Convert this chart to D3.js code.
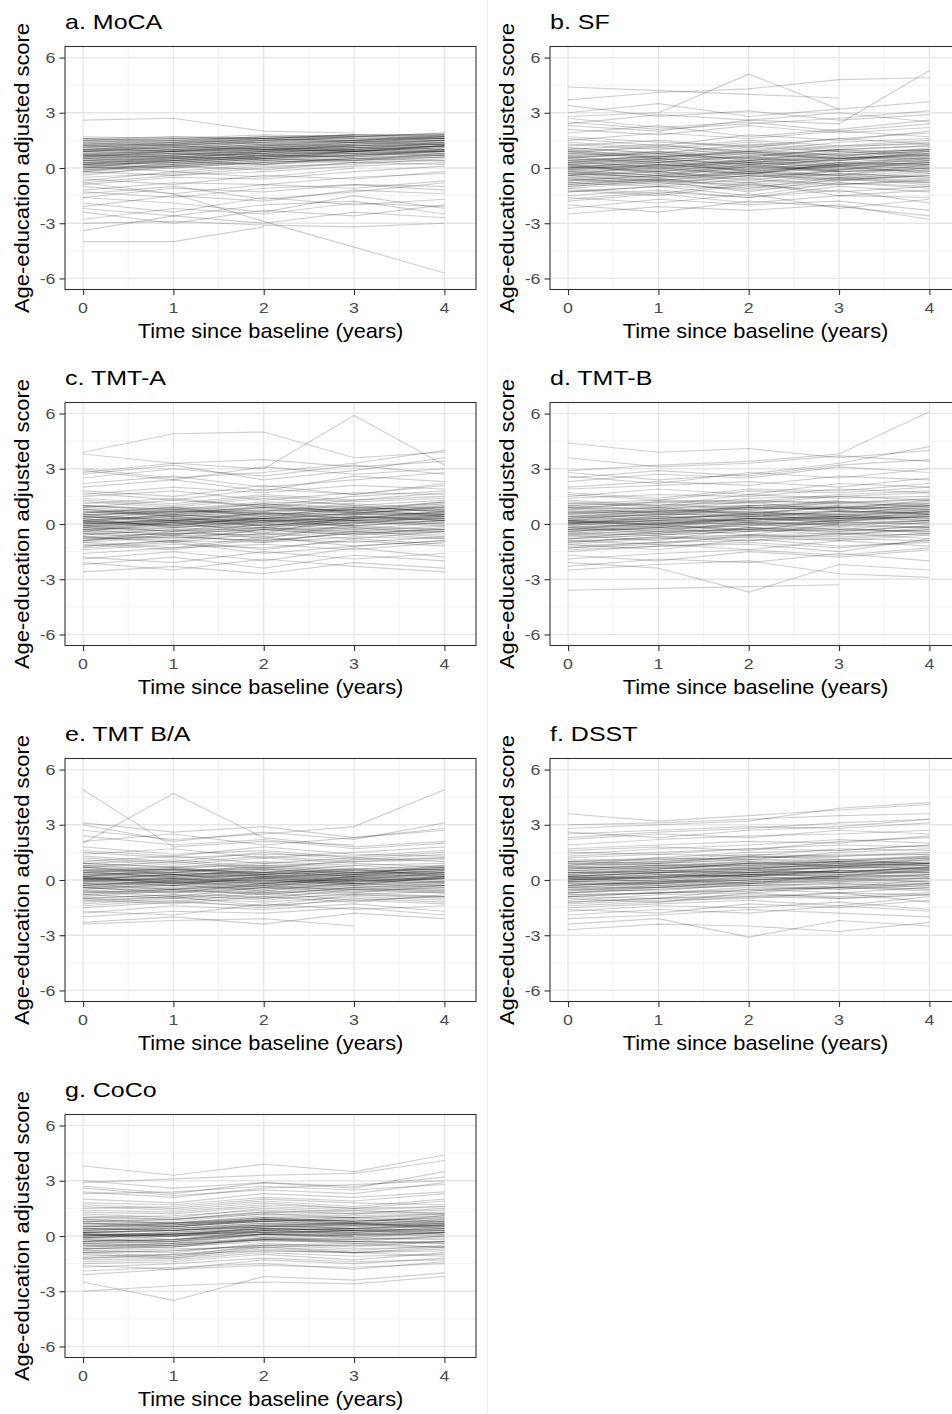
<!DOCTYPE html>
<html>
<head>
<meta charset="utf-8">
<script src="https://cdn.jsdelivr.net/npm/d3@7"></script>
<style>
  html, body { margin: 0; padding: 0; background: #fff; }
  svg { display: block; font-family: "Liberation Sans", Arial, Helvetica, sans-serif; }
</style>
</head>
<body>
<svg id="chart" width="952" height="1414"></svg>
<script>
// Panel titles, in drawing order (two columns, left to right, top to bottom)
const panelTitles = ["a. MoCA", "b. SF", "c. TMT-A", "d. TMT-B", "e. TMT B/A", "f. DSST", "g. CoCo"];

// Visit times (years since baseline) and axis ticks
const visitYears = [0, 1, 2, 3, 4];
const xTicks = [0, 1, 2, 3, 4];
const yTicks = [-6, -3, 0, 3, 6];

// Individual trajectories: adjusted score at each visit (null = no visit)
const moca = [
  [0.4,0.6,0.8,0.9,1.1],[1.2,1.4,1.3,1.5,1.6],[0.9,1.1,1.2,1.3,1.4],[0.1,0.3,0.6,0.8,0.9],
  [-0.3,0.0,0.3,0.5,0.6],[0.6,0.7,1.0,1.1,1.3],[1.5,1.6,1.5,1.7,1.7],[0.2,0.5,0.4,0.7,0.9],
  [-0.8,-0.4,-0.2,0.1,0.3],[0.8,0.9,1.1,1.2,null],[1.6,1.7,1.6,1.8,1.8],[0.5,0.4,0.7,0.9,1.2],
  [-0.1,0.2,0.5,0.4,0.8],[1.0,1.3,1.4,1.4,1.6],[0.3,0.6,0.5,0.9,1.0],[-1.2,-0.8,-0.9,-0.5,-0.3],
  [0.7,1.0,0.9,1.3,1.5],[1.3,1.2,1.5,1.6,1.7],[0.0,0.1,0.4,0.6,null],[-0.5,-0.3,0.1,0.2,0.5],
  [1.1,1.4,1.6,1.5,1.8],[0.6,0.9,1.2,1.1,1.4],[-1.6,-1.1,-1.3,-0.9,-1.0],[0.2,0.0,0.3,0.5,0.4],
  [1.4,1.5,1.7,1.6,null],[-2.1,-1.5,-1.8,-1.2,-1.4],[0.9,0.8,1.0,1.2,1.3],[-0.6,-0.9,-0.4,-0.6,-0.2],
  [0.4,0.7,0.9,1.0,1.2],[-2.8,-2.2,-2.5,-1.9,-2.1],[1.7,1.6,1.8,1.7,1.9],[-0.9,-0.5,-0.6,-0.2,0.1],
  [0.0,0.4,0.2,0.6,0.7],[1.2,1.0,1.3,1.4,1.5],[-1.9,-2.4,-1.6,-2.0,-1.7],[0.7,0.6,0.8,1.0,null],
  [-3.4,-2.6,-3.0,-2.4,-2.7],[-1.0,-1.4,-0.9,-1.1,-0.7],[0.5,0.8,0.6,0.9,1.1],[-2.4,-3.0,-2.3,-2.6,-2.0],
  [1.0,1.1,1.4,1.5,1.7],[-0.2,-0.4,0.0,0.3,0.2],[-4.0,-4.0,-3.2,null,null],[0.3,0.2,0.5,0.7,0.9],
  [-1.4,-1.0,-1.7,-1.3,-0.8],[2.6,2.7,2.0,1.9,null],[-0.8,-1.4,-2.9,-4.3,-5.7],[-3.0,-2.9,-3.1,-3.2,-3.0],
  [-2.2,-2.6,-2.0,-1.8,-2.5],[-1.6,-1.9,-2.4,-1.5,-2.2],[0.6,0.5,0.9,1.2,1.3],[0.1,-0.2,0.2,0.4,0.6],
  [1.3,1.5,1.4,1.7,null],[0.8,1.0,1.1,0.9,1.2],[-0.4,0.1,-0.1,0.3,0.4],[0.2,0.4,0.7,0.6,1.0],
  [1.5,1.3,1.6,1.8,1.7],[-0.7,-0.2,-0.5,0.0,null],[0.9,1.2,1.0,1.4,1.6],[0.4,0.3,0.6,0.8,0.7],
  [1.1,0.9,1.2,1.4,1.3],[-0.2,0.3,0.2,0.5,0.8],[0.7,0.8,1.1,1.0,1.2],[-1.3,-1.6,-1.1,-0.9,-1.2],
  [1.6,1.4,1.7,1.8,1.8],[0.0,0.5,0.7,0.6,0.9],
  [0.5,0.7,0.9,1.0,1.2],[1.0,1.2,1.1,1.4,1.5],[0.2,0.3,0.6,0.7,0.8],[1.4,1.6,1.6,1.7,1.8],
  [0.7,0.9,0.8,1.1,1.3],[0.3,0.5,0.8,0.8,1.0],[1.2,1.1,1.4,1.5,1.6],[-0.1,0.1,0.3,0.5,0.7],
  [0.9,1.0,1.3,1.2,1.5],[0.6,0.8,0.7,1.0,null],[1.6,1.5,1.7,1.7,1.9],[0.1,0.4,0.5,0.7,1.0],
  [0.8,0.7,1.0,1.1,1.2],[1.3,1.4,1.5,1.6,1.6],[0.4,0.5,0.6,0.9,1.1],[1.1,1.3,1.2,1.5,1.7],
  [0.0,0.2,0.5,0.4,0.7],[0.7,0.6,0.9,1.0,1.4],[1.5,1.7,1.6,1.8,null],[0.3,0.4,0.7,0.9,0.9],
  [0.9,1.1,1.0,1.2,1.4],[-0.2,0.1,0.4,0.3,0.6],[1.2,1.3,1.6,1.4,1.7],[0.5,0.6,0.8,1.1,1.0],
  [1.0,0.9,1.1,1.3,1.5],[0.6,0.9,1.0,0.9,1.2],[1.4,1.2,1.5,1.7,1.6],[0.2,0.6,0.5,0.8,0.9]
];

const sf = [
  [0.0,0.2,-0.1,0.1,0.3],[0.8,0.6,1.0,0.7,0.9],[-0.6,-0.3,-0.5,-0.2,0.0],[1.4,1.1,1.5,1.2,1.3],
  [-1.1,-0.8,-1.2,-0.9,-0.6],[0.3,0.5,0.2,0.6,0.4],[-0.3,-0.5,0.1,-0.2,-0.1],[2.1,1.8,2.3,1.9,2.2],
  [0.5,0.9,0.4,0.8,1.0],[-1.5,-1.2,-1.6,-1.0,-1.3],[0.1,-0.2,0.3,0.0,null],[1.0,1.3,0.8,1.2,1.5],
  [-0.8,-1.0,-0.6,-0.9,-0.7],[0.6,0.3,0.7,0.5,0.8],[-0.1,0.1,-0.3,0.2,0.1],[2.7,2.2,2.5,2.0,2.4],
  [-1.8,-1.4,-1.9,-1.5,-1.6],[0.4,0.0,0.5,0.3,0.6],[1.7,1.4,1.2,1.6,1.9],[-0.4,0.2,-0.2,0.1,-0.3],
  [0.9,0.7,1.1,0.9,null],[-1.2,-1.5,-0.9,-1.3,-1.0],[3.4,2.8,3.1,2.6,2.9],[0.2,0.4,0.0,0.5,0.7],
  [-0.7,-0.4,-0.8,-0.3,-0.5],[1.2,1.5,1.1,1.6,1.3],[-2.2,-1.7,-2.0,-1.8,-2.3],[0.7,0.5,0.9,0.6,1.1],
  [-0.2,-0.6,-0.1,-0.4,0.2],[4.4,4.2,4.0,3.8,null],[2.4,2.9,2.6,3.0,2.5],[-1.6,-1.9,-1.4,-2.2,-1.7],
  [0.0,0.3,0.6,0.2,0.5],[1.9,2.3,1.7,2.1,2.6],[-0.9,-0.6,-1.1,-0.5,-0.8],[0.5,0.2,0.4,0.9,0.6],
  [-0.5,-0.2,-0.7,-0.1,null],[3.0,3.5,2.8,3.2,3.6],[1.1,0.8,1.3,1.0,1.2],[-2.0,-2.4,-1.8,-2.1,-2.6],
  [0.3,0.7,0.5,0.4,0.9],[-1.3,-1.0,-1.5,-0.8,-1.1],[2.8,3.0,5.1,3.2,null],[1.5,1.9,1.6,2.0,1.7],
  [-0.1,-0.4,0.2,-0.2,0.0],[0.8,1.2,0.9,1.4,1.6],[-1.0,-0.7,-1.3,-0.6,-0.9],[3.7,4.1,4.3,4.8,4.9],
  [0.1,-0.1,0.4,0.1,0.3],[-0.6,-0.9,-0.4,-0.7,-0.3],[1.3,1.0,1.4,1.1,1.4],[-1.7,-1.3,-1.6,-1.2,-1.9],
  [0.6,0.8,0.3,0.7,0.5],[-0.3,0.0,-0.4,0.3,0.2],[1.0,0.6,0.9,0.5,0.8],[0.2,-0.3,0.1,-0.1,0.4],
  [-0.8,-0.5,-0.3,-0.6,-0.4],[2.5,2.1,2.4,2.7,3.1],[-2.5,-2.1,-2.3,-2.0,-2.8],[0.4,0.6,0.8,0.5,1.0],
  [-0.4,-0.7,-0.2,-0.5,-0.1],[1.6,1.2,1.8,1.5,2.0],[0.0,0.4,-0.2,0.2,null],[0.9,0.5,0.6,1.0,0.7],
  [-1.1,-1.4,-0.8,-1.5,-1.2],[2.3,2.0,2.6,2.4,5.3],
  [0.1,0.3,0.0,0.2,0.4],[-0.4,-0.2,-0.5,-0.1,0.1],[0.6,0.4,0.8,0.5,0.7],[-0.9,-0.6,-0.8,-0.5,-0.7],
  [0.3,0.1,0.4,0.2,0.6],[-0.2,0.0,-0.3,0.1,0.0],[0.9,1.1,0.7,1.0,1.2],[-0.6,-0.8,-0.4,-0.6,-0.2],
  [0.4,0.6,0.3,0.6,0.5],[0.0,-0.2,0.2,-0.1,0.3],[-1.0,-0.7,-0.9,-0.6,-0.8],[0.7,0.9,0.6,1.0,null],
  [-0.3,-0.5,-0.2,-0.4,0.0],[0.2,0.5,0.2,0.4,0.7],[-0.7,-0.4,-0.6,-0.3,-0.5],[1.1,0.8,1.2,0.9,1.0],
  [0.5,0.3,0.6,0.4,0.8],[-0.1,0.2,-0.1,0.3,0.2],[-0.5,-0.7,-0.3,-0.4,-0.6],[0.8,0.6,0.9,0.7,0.9],
  [0.0,0.1,0.3,0.0,0.2],[-0.8,-0.6,-1.0,-0.7,-0.4],[0.3,0.5,0.1,0.5,0.3],[-0.2,-0.4,0.0,-0.2,null],
  [0.6,0.8,0.5,0.8,1.0],[-0.4,-0.1,-0.3,0.0,-0.2],[0.2,0.0,0.3,0.1,0.5],[-1.3,-1.0,-1.1,-0.8,-1.0]
];

const tmtA = [
  [0.0,0.3,0.1,0.4,0.2],[0.9,0.6,1.1,0.8,1.2],[-0.5,-0.2,-0.4,0.1,-0.1],[1.5,1.8,1.3,1.7,1.6],
  [-1.0,-0.7,-0.9,-0.5,-0.8],[0.4,0.1,0.6,0.3,0.7],[-0.2,0.2,-0.1,0.3,0.5],[2.2,2.6,2.0,2.4,2.8],
  [0.6,0.9,0.7,1.0,0.6],[-1.4,-1.1,-1.3,-0.9,-1.2],[0.2,-0.1,0.4,0.2,null],[1.1,1.4,0.9,1.3,1.7],
  [-0.7,-0.9,-0.3,-0.6,-0.4],[0.7,0.4,0.9,0.6,0.9],[-0.1,0.0,0.3,0.0,0.4],[2.9,2.4,3.1,2.7,3.0],
  [-1.6,-1.3,-1.1,-1.4,-1.0],[0.3,0.7,0.5,0.8,0.4],[1.8,1.5,2.1,1.6,2.2],[-0.4,0.1,-0.2,0.2,0.0],
  [1.0,0.8,1.2,1.1,null],[-1.1,-1.4,-0.8,-1.0,-0.7],[3.8,3.3,3.5,3.1,3.4],[0.1,0.5,0.2,0.6,0.8],
  [-0.8,-0.5,-0.6,-0.2,-0.5],[1.3,1.0,1.5,1.2,1.4],[-2.2,-1.8,-2.4,-1.7,-2.0],[0.8,0.5,1.0,0.7,1.1],
  [-0.3,-0.6,0.0,-0.3,0.1],[3.9,4.9,5.0,3.6,3.9],[2.5,3.0,2.6,3.2,2.7],[-1.8,-2.1,-1.5,-1.9,-1.6],
  [0.0,0.2,0.6,0.3,0.6],[2.0,2.4,1.8,2.6,2.3],[-0.9,-0.6,-1.0,-0.4,-0.7],[0.5,0.2,0.3,0.8,0.5],
  [-0.6,-0.3,-0.8,0.0,null],[2.8,3.3,3.0,5.9,3.2],[1.2,0.9,1.4,1.0,1.3],[-2.1,-2.5,-1.9,-2.3,-2.6],
  [0.4,0.8,0.6,0.5,1.0],[-1.2,-0.9,-1.4,-0.8,-1.1],[1.6,2.0,1.7,2.1,1.9],[-0.1,-0.4,0.2,-0.1,0.2],
  [0.9,1.3,1.0,1.5,1.8],[-1.3,-1.0,-1.6,-1.2,-0.9],[2.7,3.2,2.4,2.9,3.6],[0.1,0.0,0.3,0.2,0.3],
  [-0.7,-1.0,-0.5,-0.8,-0.4],[1.4,1.1,1.6,1.3,1.5],[-1.9,-1.5,-2.0,-1.3,-1.8],[0.6,0.9,0.4,0.9,0.7],
  [-0.3,0.1,-0.5,0.4,0.3],[1.0,0.7,1.1,0.6,0.9],[0.3,-0.2,0.2,0.0,0.5],[-0.9,-0.4,-0.2,-0.5,-0.3],
  [3.0,2.5,2.8,3.3,4.0],[-2.6,-2.3,-2.7,-2.1,-2.4],[0.5,0.6,0.9,0.7,1.2],[-0.5,-0.8,-0.3,-0.6,-0.2],
  [1.7,1.3,1.9,1.6,2.1],[0.1,0.4,-0.1,0.3,null],[0.8,0.4,0.7,1.1,0.8],[-1.0,-1.3,-0.7,-1.2,-0.9],
  [0.2,0.5,0.3,0.6,0.5],[-0.2,0.0,0.1,0.4,0.2],
  [0.1,0.2,0.3,0.5,0.4],[-0.3,-0.1,-0.2,0.2,0.1],[0.5,0.7,0.6,0.9,0.7],[-0.7,-0.5,-0.6,-0.3,-0.4],
  [0.2,0.4,0.1,0.5,0.6],[-0.1,0.1,0.2,0.1,0.3],[0.8,0.6,0.9,0.7,1.0],[-0.5,-0.6,-0.2,-0.4,-0.1],
  [0.4,0.3,0.6,0.5,0.6],[0.0,0.2,-0.1,0.3,0.2],[-0.9,-0.6,-0.7,-0.4,-0.6],[0.6,0.8,0.5,0.8,null],
  [-0.2,-0.4,0.0,-0.1,0.2],[0.3,0.6,0.4,0.7,0.5],[-0.6,-0.3,-0.5,-0.1,-0.3],[1.0,0.8,1.1,0.9,1.1],
  [0.4,0.2,0.5,0.3,0.7],[-0.1,0.3,0.0,0.4,0.3],[-0.4,-0.5,-0.3,-0.2,-0.3],[0.7,0.5,0.8,0.6,0.8],
  [0.0,0.1,0.2,0.2,0.4],[-0.8,-0.7,-0.9,-0.5,-0.3],[0.2,0.5,0.3,0.6,0.4],[-0.3,-0.2,0.1,-0.1,null],
  [0.5,0.7,0.7,0.8,0.9],[-0.4,0.0,-0.3,0.1,0.0],[0.1,-0.1,0.3,0.2,0.5],[-1.2,-0.9,-1.0,-0.7,-0.8]
];

const tmtB = [
  [0.1,0.2,0.4,0.3,0.5],[0.8,0.9,1.0,1.2,1.1],[-0.6,-0.3,-0.1,0.0,-0.2],[1.4,1.6,1.5,1.9,1.7],
  [-1.1,-0.8,-0.6,-0.7,-0.5],[0.3,0.5,0.7,0.4,0.8],[-0.2,0.0,0.2,0.5,0.3],[2.0,2.3,2.1,2.6,2.4],
  [0.6,0.4,0.9,0.8,1.0],[-1.5,-1.2,-1.0,-1.3,-0.9],[0.0,-0.2,0.3,0.1,null],[1.1,1.3,1.2,1.6,1.8],
  [-0.8,-0.6,-0.4,-0.2,-0.5],[0.5,0.8,0.6,0.9,0.7],[-0.3,0.1,0.0,0.2,0.4],[2.6,2.2,2.8,2.5,3.0],
  [-1.9,-1.6,-1.4,-1.7,-1.3],[0.2,0.6,0.4,0.7,0.6],[1.7,1.4,1.9,1.8,2.2],[-0.4,-0.1,-0.3,0.1,0.0],
  [0.9,1.1,0.8,1.3,null],[-1.2,-1.0,-0.7,-0.9,-0.6],[3.6,3.1,3.3,3.7,3.4],[0.0,0.3,0.5,0.6,0.9],
  [-0.7,-0.5,-0.2,-0.4,-0.1],[1.2,0.9,1.4,1.5,1.3],[-2.3,-1.9,-2.1,-1.6,-2.0],[0.7,0.5,1.0,0.9,1.2],
  [-0.1,-0.4,0.1,-0.1,0.2],[4.4,3.9,4.1,3.6,4.0],[2.3,2.7,2.5,3.1,2.8],[-1.7,-2.0,-1.5,-1.8,-1.4],
  [0.1,0.0,0.4,0.5,0.6],[1.9,2.1,2.3,2.0,2.5],[-1.0,-0.7,-0.9,-0.5,-0.8],[0.4,0.2,0.6,0.9,0.5],
  [-0.5,-0.2,-0.6,0.0,null],[2.9,3.2,3.4,3.8,6.1],[1.0,1.2,1.3,1.1,1.4],[-2.1,-2.4,-3.7,-2.2,-2.5],
  [0.3,0.7,0.6,0.5,1.0],[-1.3,-1.1,-1.4,-0.9,-1.2],[1.5,1.9,1.6,2.2,2.0],[-0.2,-0.5,0.0,-0.3,0.1],
  [0.8,1.2,1.1,1.5,1.7],[-1.4,-1.2,-1.1,-1.5,-0.8],[2.5,2.9,2.6,3.2,3.5],[0.2,0.1,0.3,0.4,0.2],
  [-0.9,-1.1,-0.6,-0.8,-0.5],[1.3,1.0,1.6,1.4,1.5],[-3.6,-3.5,-3.4,-3.3,null],[0.6,0.9,0.5,1.0,0.8],
  [-0.3,0.0,-0.4,0.3,0.4],[1.0,0.8,1.2,0.7,1.1],[0.2,-0.1,0.3,0.1,0.5],[-0.8,-0.4,-0.3,-0.6,-0.2],
  [2.8,2.4,2.7,3.3,4.2],[-2.5,-2.2,-2.0,-2.7,-2.9],[0.4,0.7,0.9,0.8,1.3],[-0.6,-0.9,-0.2,-0.5,-0.3],
  [1.6,1.3,1.8,1.7,2.0],[0.0,0.4,0.1,0.4,null],[0.9,0.6,0.7,1.2,0.9],[-1.1,-1.4,-0.8,-1.2,-1.0],
  [0.1,0.3,0.5,0.2,0.7],
  [0.0,0.2,0.3,0.4,0.5],[-0.4,-0.2,0.0,0.1,0.0],[0.6,0.6,0.8,0.9,0.8],[-0.8,-0.6,-0.4,-0.3,-0.4],
  [0.2,0.3,0.5,0.4,0.7],[-0.2,0.0,0.1,0.3,0.2],[0.9,0.8,1.0,1.1,1.0],[-0.6,-0.5,-0.3,-0.4,-0.1],
  [0.4,0.5,0.6,0.7,0.6],[0.1,0.1,0.2,0.4,0.3],[-1.0,-0.7,-0.6,-0.5,-0.6],[0.7,0.7,0.9,1.0,null],
  [-0.3,-0.3,0.0,0.0,0.2],[0.3,0.5,0.5,0.6,0.8],[-0.5,-0.4,-0.3,-0.1,-0.2],[1.1,1.0,1.2,1.2,1.3],
  [0.5,0.3,0.6,0.5,0.7],[-0.1,0.2,0.2,0.3,0.4],[-0.5,-0.6,-0.2,-0.3,-0.4],[0.8,0.6,0.9,0.8,1.0],
  [0.0,0.0,0.3,0.2,0.4],[-0.9,-0.8,-0.7,-0.6,-0.3],[0.2,0.4,0.4,0.7,0.5],[-0.3,-0.1,0.1,0.0,null],
  [0.6,0.7,0.8,0.9,1.1],[-0.4,-0.2,-0.1,0.2,0.1],[0.1,0.0,0.3,0.3,0.6],[-1.3,-1.0,-0.9,-0.8,-0.9]
];

const tmtRatio = [
  [0.0,-0.2,0.1,-0.1,0.2],[0.7,0.4,0.8,0.5,0.6],[-0.6,-0.4,-0.7,-0.3,-0.5],[1.2,0.9,1.3,1.0,1.1],
  [-1.0,-0.8,-1.1,-0.7,-0.9],[0.3,0.1,0.4,0.2,0.5],[-0.3,0.0,-0.2,0.1,-0.1],[1.8,1.4,1.6,1.2,1.5],
  [0.5,0.7,0.3,0.6,0.4],[-1.3,-1.0,-1.2,-0.9,-1.1],[0.1,-0.1,0.2,0.0,null],[0.9,1.1,0.7,1.0,1.2],
  [-0.8,-1.0,-0.6,-0.8,-0.6],[0.6,0.3,0.5,0.4,0.7],[-0.1,0.1,-0.3,0.1,0.0],[2.4,1.9,2.2,1.7,2.0],
  [-1.5,-1.2,-1.4,-1.1,-1.3],[0.2,0.5,0.1,0.4,0.3],[1.5,1.2,1.4,1.3,1.6],[-0.4,-0.1,-0.5,0.0,-0.3],
  [0.8,0.6,0.9,0.7,null],[-1.1,-1.3,-0.9,-1.2,-0.8],[3.1,2.6,2.9,2.3,2.7],[0.0,0.3,-0.1,0.3,0.5],
  [-0.7,-0.5,-0.8,-0.4,-0.6],[1.0,1.3,0.9,1.2,1.0],[-2.0,-1.7,-1.8,-1.5,-1.9],[0.4,0.2,0.6,0.3,0.8],
  [-0.2,-0.5,0.0,-0.2,0.1],[4.9,1.8,2.1,1.9,null],[2.0,4.7,2.3,1.8,2.1],[-1.7,-1.9,-1.3,-1.6,-1.4],
  [0.1,0.0,0.3,0.1,0.4],[1.4,1.7,1.2,1.5,1.8],[-0.9,-0.6,-1.0,-0.5,-0.7],[0.5,0.1,0.3,0.6,0.2],
  [-0.5,-0.2,-0.6,-0.1,null],[2.7,2.2,2.5,2.9,4.9],[0.9,0.7,1.0,0.8,0.9],[-2.3,-2.0,-2.4,-1.8,-2.1],
  [0.2,0.6,0.4,0.2,0.6],[-1.2,-0.9,-1.4,-0.8,-1.0],[1.6,1.3,1.8,1.4,1.3],[-0.1,-0.3,0.2,-0.1,0.1],
  [0.7,1.0,0.6,1.1,1.4],[-1.4,-1.1,-1.5,-1.0,-1.2],[2.1,2.5,1.9,2.3,2.8],[0.0,-0.3,0.1,-0.2,-0.1],
  [-0.6,-0.9,-0.4,-0.7,-0.3],[1.1,0.8,1.2,0.9,0.7],[-1.8,-1.4,-1.6,-1.3,-1.7],[0.4,0.6,0.2,0.5,0.3],
  [-0.3,0.0,-0.4,0.2,0.1],[0.8,0.5,0.7,0.4,0.6],[0.2,-0.2,0.0,-0.3,0.2],[-0.8,-0.5,-0.3,-0.6,-0.4],
  [3.0,2.1,2.6,2.2,3.1],[-2.4,-2.2,-2.1,-2.5,null],[0.3,0.4,0.6,0.3,0.7],[-0.4,-0.7,-0.2,-0.4,-0.2],
  [1.3,1.0,1.5,1.1,1.2],[0.0,0.3,-0.2,0.2,null],[0.7,0.3,0.4,0.8,0.5],[-1.0,-1.2,-0.7,-1.1,-0.9],
  [0.1,0.2,0.3,0.0,0.4],
  [0.0,0.1,-0.1,0.0,0.1],[-0.4,-0.3,-0.5,-0.2,-0.3],[0.5,0.3,0.4,0.3,0.5],[-0.8,-0.6,-0.7,-0.5,-0.6],
  [0.2,0.0,0.3,0.1,0.3],[-0.2,-0.1,-0.3,0.0,-0.2],[0.7,0.5,0.6,0.4,0.6],[-0.6,-0.7,-0.4,-0.5,-0.3],
  [0.3,0.4,0.2,0.3,0.2],[0.1,-0.1,0.0,-0.2,0.1],[-1.0,-0.8,-0.9,-0.6,-0.7],[0.4,0.6,0.3,0.5,null],
  [-0.3,-0.5,-0.2,-0.3,-0.1],[0.2,0.3,0.1,0.4,0.4],[-0.5,-0.3,-0.6,-0.2,-0.4],[0.9,0.7,0.8,0.6,0.8],
  [0.4,0.2,0.5,0.2,0.4],[-0.1,0.1,-0.2,0.2,0.0],[-0.4,-0.6,-0.3,-0.5,-0.5],[0.6,0.4,0.7,0.5,0.6],
  [0.0,0.0,0.1,-0.1,0.2],[-0.7,-0.5,-0.8,-0.4,-0.3],[0.1,0.3,0.0,0.3,0.2],[-0.2,-0.3,-0.1,-0.2,null],
  [0.5,0.6,0.4,0.6,0.7],[-0.3,-0.1,-0.4,0.0,-0.1],[0.1,-0.2,0.2,0.0,0.3],[-1.1,-0.9,-1.0,-0.8,-0.9]
];

const dsst = [
  [0.0,0.2,0.4,0.5,0.6],[0.8,1.0,1.2,1.3,1.4],[-0.6,-0.4,-0.1,0.0,0.1],[1.3,1.5,1.7,1.9,1.8],
  [-1.1,-0.8,-0.7,-0.4,-0.6],[0.3,0.5,0.6,0.9,0.8],[-0.3,-0.1,0.2,0.3,0.4],[1.9,2.2,2.4,2.5,2.7],
  [0.5,0.6,0.9,0.8,1.1],[-1.4,-1.2,-0.9,-1.0,-0.8],[0.1,0.3,0.2,0.5,null],[1.0,1.2,1.5,1.6,1.9],
  [-0.8,-0.7,-0.4,-0.5,-0.3],[0.6,0.8,0.7,1.0,0.9],[-0.1,0.0,0.3,0.2,0.5],[2.5,2.7,2.9,2.8,3.1],
  [-1.7,-1.4,-1.5,-1.2,-1.6],[0.2,0.4,0.7,0.6,0.8],[1.6,1.8,1.6,2.1,2.3],[-0.4,-0.2,0.0,0.1,-0.1],
  [0.9,1.0,1.3,1.2,null],[-1.2,-1.0,-0.8,-0.9,-0.7],[3.0,3.1,3.3,3.5,3.6],[0.0,0.1,0.5,0.7,0.9],
  [-0.7,-0.5,-0.3,-0.2,-0.4],[1.2,1.4,1.3,1.7,1.6],[-2.1,-1.9,-1.6,-1.8,-2.0],[0.7,0.9,1.1,1.0,1.3],
  [-0.2,-0.3,0.0,0.2,0.3],[3.6,3.2,3.5,3.8,4.1],[2.2,2.5,2.3,2.7,2.5],[-1.6,-1.8,-1.3,-1.5,-1.1],
  [0.1,0.2,0.6,0.4,0.7],[1.7,1.9,2.1,2.0,2.4],[-0.9,-0.7,-0.6,-0.3,-0.5],[0.4,0.5,0.4,0.8,0.6],
  [-0.5,-0.3,-0.1,0.1,null],[2.8,3.0,3.2,3.9,4.2],[1.1,1.1,1.4,1.3,1.5],[-2.4,-2.1,-3.1,-2.2,-2.5],
  [0.3,0.6,0.8,0.7,1.0],[-1.3,-1.1,-1.0,-0.7,-1.2],[1.4,1.7,1.9,2.2,2.0],[-0.1,-0.2,0.2,0.0,0.3],
  [0.8,1.2,1.1,1.5,1.7],[-1.5,-1.3,-1.1,-1.4,-0.9],[2.3,2.6,2.8,3.1,3.3],[0.2,0.1,0.3,0.5,0.4],
  [-0.9,-1.0,-0.5,-0.7,-0.4],[1.0,0.9,1.3,1.1,1.2],[-1.9,-1.6,-1.8,-1.4,-1.7],[0.5,0.7,0.6,0.9,0.8],
  [-0.3,0.0,-0.2,0.3,0.2],[0.9,0.8,1.0,0.7,1.1],[0.1,-0.1,0.3,0.2,0.6],[-0.7,-0.4,-0.3,-0.5,-0.2],
  [2.6,2.3,2.7,2.9,3.3],[-2.7,-2.4,-2.5,-2.8,-2.3],[0.4,0.6,0.9,0.8,1.2],[-0.5,-0.6,-0.2,-0.4,0.0],
  [1.5,1.4,1.7,1.6,1.9],[0.0,0.3,0.2,0.5,null],[0.7,0.6,0.9,1.1,0.9],[-1.0,-1.2,-0.7,-1.0,-0.8],
  [0.2,0.4,0.5,0.4,0.7],
  [0.1,0.3,0.4,0.5,0.6],[-0.3,-0.1,0.1,0.2,0.2],[0.5,0.7,0.8,1.0,0.9],[-0.7,-0.5,-0.3,-0.2,-0.3],
  [0.2,0.4,0.5,0.7,0.7],[-0.1,0.0,0.3,0.4,0.4],[0.8,0.9,1.1,1.1,1.3],[-0.5,-0.4,-0.1,-0.1,0.1],
  [0.4,0.5,0.7,0.8,0.8],[0.0,0.2,0.2,0.4,0.5],[-0.9,-0.7,-0.5,-0.4,-0.5],[0.6,0.8,0.9,1.0,null],
  [-0.2,-0.2,0.1,0.1,0.3],[0.3,0.5,0.6,0.8,0.9],[-0.6,-0.3,-0.2,0.0,-0.1],[1.0,1.1,1.2,1.4,1.4],
  [0.4,0.4,0.6,0.6,0.9],[-0.1,0.2,0.3,0.5,0.5],[-0.4,-0.4,-0.2,-0.1,-0.2],[0.7,0.7,1.0,0.9,1.1],
  [0.0,0.1,0.3,0.3,0.5],[-0.8,-0.7,-0.6,-0.4,-0.2],[0.2,0.4,0.4,0.7,0.6],[-0.3,-0.1,0.0,0.2,null],
  [0.6,0.8,0.8,1.0,1.2],[-0.4,-0.2,0.0,0.1,0.1],[0.1,0.1,0.4,0.4,0.7],[-1.2,-1.0,-0.9,-0.7,-0.8]
];

const coco = [
  [0.0,0.1,0.4,0.3,0.4],[0.8,0.7,1.1,1.0,1.2],[-0.6,-0.5,-0.1,-0.2,0.0],[1.4,1.3,1.7,1.5,1.6],
  [-1.1,-1.0,-0.6,-0.8,-0.5],[0.3,0.4,0.7,0.5,0.8],[-0.3,-0.2,0.2,0.1,0.3],[2.0,1.8,2.3,2.1,2.4],
  [0.5,0.6,0.8,0.9,0.7],[-1.4,-1.3,-0.9,-1.1,-1.0],[0.1,0.0,0.3,0.4,null],[1.0,1.1,1.4,1.2,1.5],
  [-0.8,-0.9,-0.4,-0.6,-0.3],[0.6,0.5,0.9,0.7,0.8],[-0.1,0.1,0.2,0.3,0.1],[2.6,2.2,2.5,2.3,2.9],
  [-1.7,-1.5,-1.2,-1.4,-1.3],[0.2,0.3,0.6,0.7,0.5],[1.7,1.5,1.9,1.6,2.0],[-0.4,-0.3,0.1,-0.1,0.2],
  [0.9,0.8,1.2,1.0,null],[-1.2,-1.1,-0.7,-0.9,-0.6],[3.0,2.6,2.9,2.7,3.2],[0.0,0.2,0.5,0.6,0.7],
  [-0.7,-0.6,-0.2,-0.3,-0.4],[1.2,1.0,1.5,1.3,1.4],[-2.1,-1.8,-1.6,-1.7,-1.5],[0.7,0.6,1.0,0.8,1.1],
  [-0.2,-0.4,0.1,0.0,0.2],[3.8,3.3,3.9,3.5,4.4],[2.3,2.4,2.7,2.5,2.8],[-1.6,-1.8,-1.3,-1.5,-1.2],
  [0.1,0.0,0.5,0.4,0.6],[1.8,1.7,2.1,1.9,2.3],[-0.9,-0.8,-0.5,-0.4,-0.6],[0.4,0.3,0.5,0.7,0.4],
  [-0.5,-0.4,-0.1,0.0,null],[2.9,3.1,3.3,3.4,4.1],[1.1,0.9,1.3,1.2,1.3],[-2.5,-3.5,-2.2,-2.4,-2.0],
  [0.3,0.5,0.8,0.6,0.9],[-1.3,-1.2,-0.8,-0.9,-1.1],[1.5,1.6,2.0,1.8,1.7],[-0.1,-0.3,0.3,0.1,0.2],
  [0.8,0.9,1.3,1.4,1.6],[-1.5,-1.4,-1.0,-1.3,-0.9],[2.4,2.1,2.6,2.8,3.0],[0.2,0.1,0.4,0.3,0.3],
  [-0.9,-1.1,-0.5,-0.7,-0.6],[1.3,1.2,1.6,1.4,1.2],[-1.9,-1.7,-1.5,-1.8,-1.4],[0.5,0.7,0.8,0.6,0.7],
  [-0.3,0.0,0.1,0.3,0.2],[0.9,0.7,1.0,0.8,1.0],[0.1,-0.2,0.3,0.2,0.5],[-0.7,-0.5,-0.2,-0.4,-0.3],
  [2.7,2.3,2.9,2.6,3.5],[-3.0,-2.7,-2.5,-2.6,-2.2],[0.4,0.5,0.9,0.7,1.1],[-0.5,-0.6,-0.1,-0.3,0.0],
  [1.6,1.4,1.8,1.5,1.9],[0.0,0.2,0.4,0.3,null],[0.7,0.5,0.8,1.0,0.8],[-1.0,-1.2,-0.6,-0.9,-0.7],
  [0.2,0.3,0.6,0.4,0.6],
  [0.1,0.1,0.4,0.4,0.5],[-0.3,-0.2,0.1,0.1,0.1],[0.5,0.5,0.8,0.7,0.8],[-0.7,-0.6,-0.3,-0.3,-0.4],
  [0.2,0.3,0.5,0.5,0.6],[-0.1,0.0,0.3,0.2,0.3],[0.8,0.7,1.0,1.0,1.1],[-0.5,-0.5,-0.2,-0.2,-0.1],
  [0.4,0.4,0.7,0.6,0.6],[0.0,0.1,0.2,0.3,0.4],[-0.9,-0.8,-0.5,-0.5,-0.6],[0.6,0.7,0.9,0.8,null],
  [-0.2,-0.3,0.1,0.0,0.2],[0.3,0.4,0.6,0.7,0.6],[-0.6,-0.4,-0.2,-0.1,-0.2],[1.0,0.9,1.2,1.1,1.2],
  [0.4,0.3,0.6,0.4,0.7],[-0.1,0.1,0.3,0.4,0.3],[-0.4,-0.5,-0.2,-0.3,-0.3],[0.7,0.6,0.9,0.8,0.9],
  [0.0,0.0,0.2,0.2,0.4],[-0.8,-0.7,-0.6,-0.5,-0.3],[0.2,0.3,0.5,0.6,0.5],[-0.3,-0.2,0.1,0.0,null],
  [0.5,0.6,0.9,0.8,1.0],[-0.4,-0.3,0.0,0.1,0.0],[0.1,0.0,0.4,0.3,0.6],[-1.2,-1.0,-0.8,-0.9,-0.8]
];

const panelData = [moca, sf, tmtA, tmtB, tmtRatio, dsst, coco];

// ---- layout ----
const colStep = 485, rowStep = 356;
const box = { left: 65, right: 476, top: 46.5, bottom: 289.5 };
const fontFamily = "Liberation Sans, Arial, Helvetica, sans-serif";

const x = d3.scaleLinear().domain([-0.2, 4.35]).range([box.left, box.right]);
const y = d3.scaleLinear().domain([-6.6, 6.6]).range([box.bottom, box.top]);

const svg = d3.select("#chart");
svg.append("rect").attr("width", 952).attr("height", 1414).attr("fill", "#fff");

// faint divider between the two columns
svg.append("line")
  .attr("x1", 487.5).attr("x2", 487.5).attr("y1", 0).attr("y2", 1414)
  .attr("stroke", "#eeeeee").attr("stroke-width", 1);

const line = d3.line()
  .defined(d => d != null)
  .x((d, j) => x(visitYears[j]))
  .y(d => y(d));

const xMinor = [0.5, 1.5, 2.5, 3.5];
const yMinor = [-4.5, -1.5, 1.5, 4.5];
const tickText = v => String(v); // plain hyphen-minus, e.g. "-6"

// text helper: glyphs are drawn slightly wider than tall
function label(parent, tx, ty, str, size, sx, anchor, rotate) {
  return parent.append("text")
    .attr("transform", `translate(${tx},${ty})` + (rotate ? ` rotate(${rotate})` : "") + ` scale(${sx},1)`)
    .attr("text-anchor", anchor)
    .attr("font-family", fontFamily)
    .attr("font-size", size)
    .attr("fill", "#000")
    .text(str);
}

panelData.forEach((rows, i) => {
  const col = i % 2, row = Math.floor(i / 2);
  const g = svg.append("g").attr("transform", `translate(${col * colStep},${row * rowStep})`);

  const clipId = "clip" + i;
  g.append("clipPath").attr("id", clipId)
    .append("rect")
    .attr("x", box.left).attr("y", box.top)
    .attr("width", box.right - box.left).attr("height", box.bottom - box.top);

  const plot = g.append("g").attr("clip-path", `url(#${clipId})`);

  // minor grid
  plot.selectAll(".gx-minor").data(xMinor).join("line")
    .attr("x1", d => x(d)).attr("x2", d => x(d))
    .attr("y1", box.top).attr("y2", box.bottom)
    .attr("stroke", "#ececec").attr("stroke-width", 0.7);
  plot.selectAll(".gy-minor").data(yMinor).join("line")
    .attr("y1", d => y(d)).attr("y2", d => y(d))
    .attr("x1", box.left).attr("x2", box.right)
    .attr("stroke", "#ececec").attr("stroke-width", 0.7);
  // major grid
  plot.selectAll(".gx").data(xTicks).join("line")
    .attr("x1", d => x(d)).attr("x2", d => x(d))
    .attr("y1", box.top).attr("y2", box.bottom)
    .attr("stroke", "#e6e6e6").attr("stroke-width", 1.3);
  plot.selectAll(".gy").data(yTicks).join("line")
    .attr("y1", d => y(d)).attr("y2", d => y(d))
    .attr("x1", box.left).attr("x2", box.right)
    .attr("stroke", "#e6e6e6").attr("stroke-width", 1.3);

  // trajectories
  plot.selectAll("path.traj").data(rows).join("path")
    .attr("class", "traj")
    .attr("d", line)
    .attr("fill", "none")
    .attr("stroke", "#000")
    .attr("stroke-opacity", 0.19)
    .attr("stroke-width", 1.15)
    .attr("stroke-linejoin", "round");

  // panel border
  g.append("rect")
    .attr("x", box.left).attr("y", box.top)
    .attr("width", box.right - box.left).attr("height", box.bottom - box.top)
    .attr("fill", "none").attr("stroke", "#333").attr("stroke-width", 1.1);

  // axes (tick marks; labels drawn separately)
  const xAxis = g.append("g").attr("transform", `translate(0,${box.bottom})`)
    .call(d3.axisBottom(x).tickValues(xTicks).tickSize(5.5).tickFormat(""));
  const yAxis = g.append("g").attr("transform", `translate(${box.left},0)`)
    .call(d3.axisLeft(y).tickValues(yTicks).tickSize(5.5).tickFormat(""));
  [xAxis, yAxis].forEach(a => {
    a.select(".domain").remove();
    a.selectAll(".tick line").attr("stroke", "#333").attr("stroke-width", 1.1);
  });

  // tick labels
  xTicks.forEach(v => {
    label(g, x(v), 313, tickText(v), 15.5, 1.15, "middle").attr("fill", "#4d4d4d");
  });
  yTicks.forEach(v => {
    label(g, 55.5, y(v) + 5.5, tickText(v), 15.5, 1.15, "end").attr("fill", "#4d4d4d");
  });

  // titles
  label(g, box.left, 29.3, panelTitles[i], 20.5, 1.22, "start");
  label(g, (box.left + box.right) / 2, 337.5, "Time since baseline (years)", 20, 1.09, "middle");
  label(g, 29, (box.top + box.bottom) / 2, "Age-education adjusted score", 20.5, 1.07, "middle", -90);
});
</script>
</body>
</html>
